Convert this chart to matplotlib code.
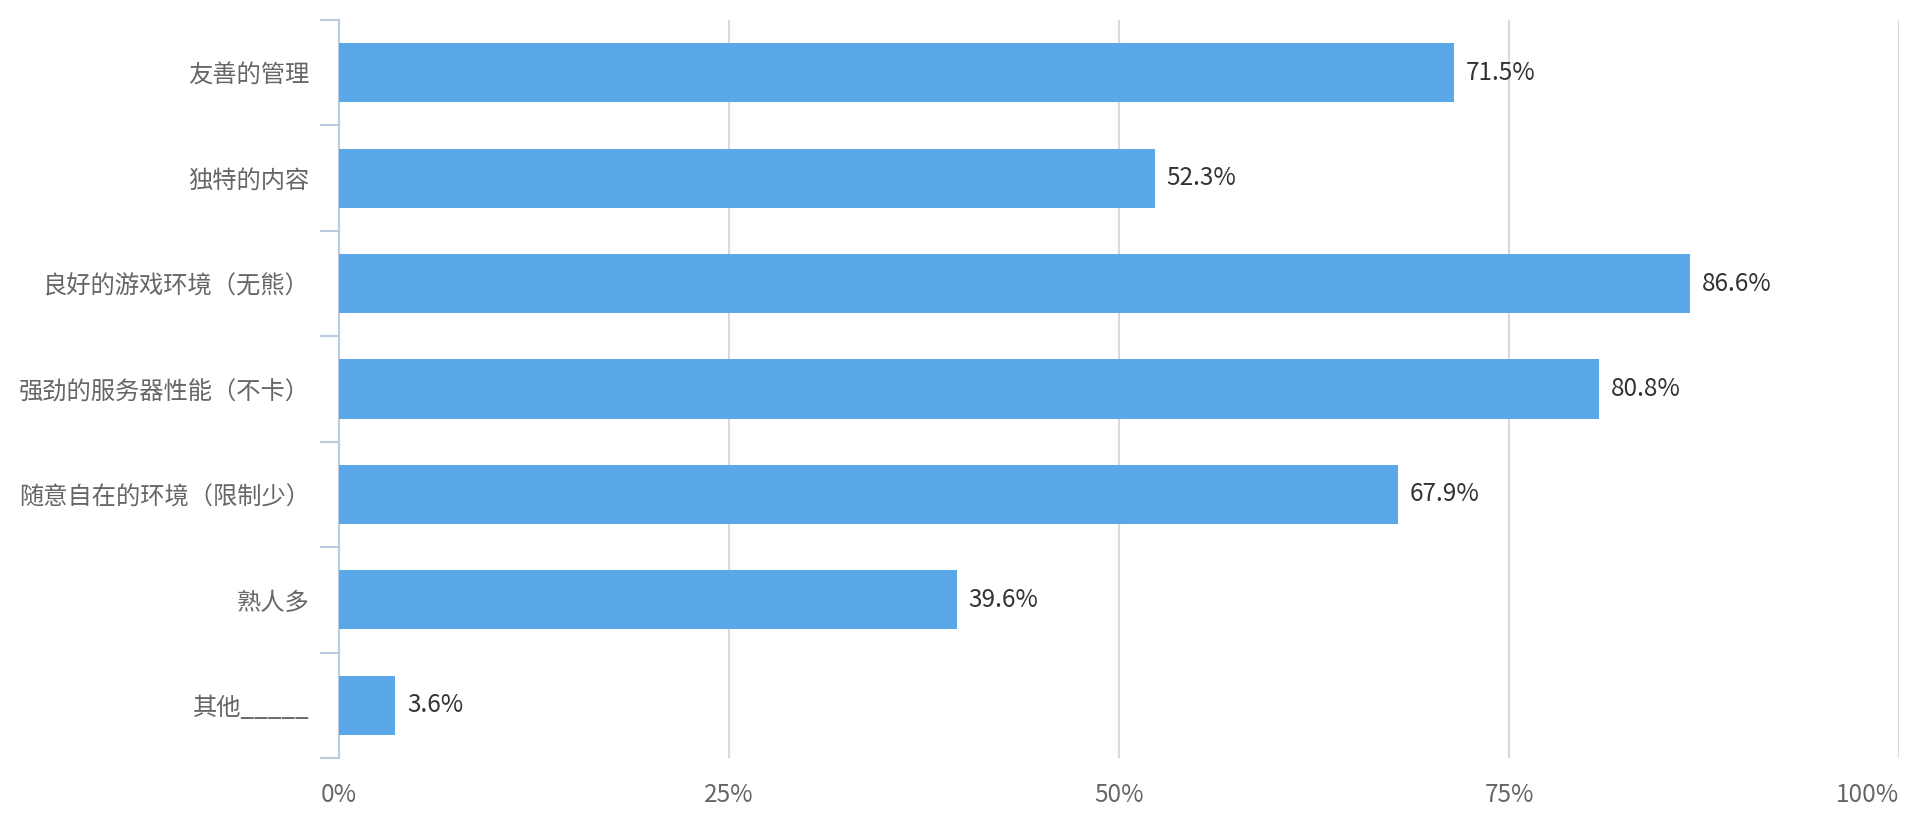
import matplotlib
matplotlib.use("Agg")
import matplotlib.pyplot as plt
import numpy as np

plt.rcParams['font.family'] = ['Noto Sans CJK SC', 'DejaVu Sans']

# 数据
categories = ['友善的管理', '独特的内容', '良好的游戏环境（无熊）', '强劲的服务器性能（不卡）',
              '随意自在的环境（限制少）', '熟人多', '其他_____']
values = [71.5, 52.3, 86.6, 80.8, 67.9, 39.6, 3.6]
xticks = [0, 25, 50, 75, 100]
xtick_labels = ['0%', '25%', '50%', '75%', '100%']

bar_color = '#5aa7e9'
axis_color = '#bccbdd'
grid_color = '#d9d9d9'

fig = plt.figure(figsize=(19.2, 8.3), dpi=100)
ax = fig.add_axes([339 / 1920, 1 - 758 / 830, (1899 - 339) / 1920, (758 - 20) / 830])

n = len(categories)
y = np.arange(n)
ax.barh(y, values, height=0.56, color=bar_color, zorder=3)

for yi, v in zip(y, values):
    ax.text(v + 0.75, yi, f'{v}%', va='center', ha='left', fontsize=17.5, color='#333333')

ax.set_xlim(0, 100)
ax.set_ylim(n - 0.5, -0.5)

# 网格
for xt in xticks[1:]:
    ax.axvline(xt, color=grid_color, linewidth=1.5, zorder=1)

ax.set_xticks(xticks)
ax.set_xticklabels(xtick_labels, fontsize=17.5, color='#666666')
ax.get_xticklabels()[-1].set_horizontalalignment('right')
ax.tick_params(axis='x', length=0, pad=17)

ax.set_yticks(y)
ax.set_yticklabels(categories, fontsize=17.5, color='#666666')
ax.set_yticks(np.arange(n + 1) - 0.5, minor=True)
ax.tick_params(axis='y', which='major', length=0, pad=21)
ax.tick_params(axis='y', which='minor', length=13.7, width=1.5, color=axis_color)

for s in ['top', 'right', 'bottom']:
    ax.spines[s].set_visible(False)
ax.spines['left'].set_color(axis_color)
ax.spines['left'].set_linewidth(1.5)

fig.savefig('out.png', dpi=100, facecolor='white')
